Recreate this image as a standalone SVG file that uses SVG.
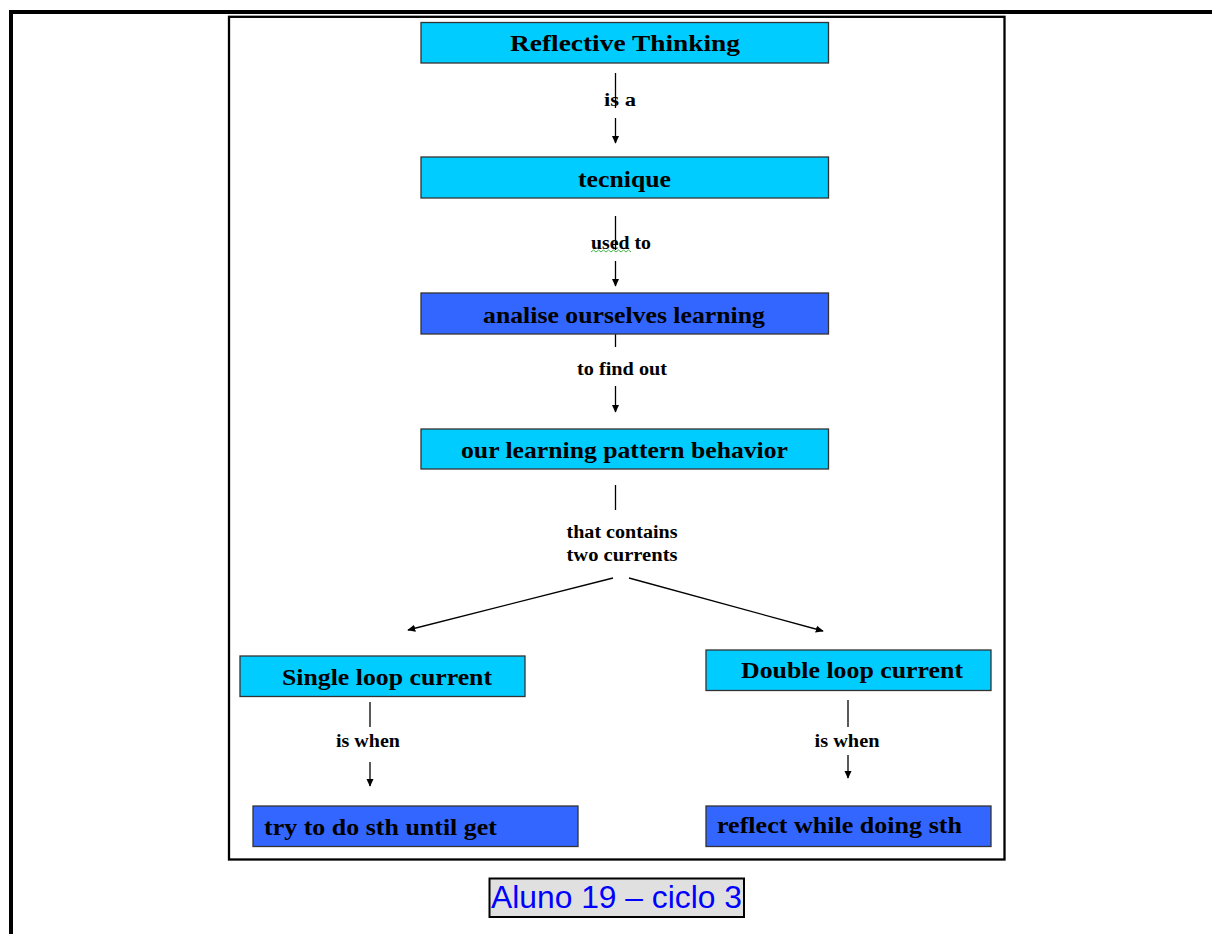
<svg xmlns="http://www.w3.org/2000/svg" width="1212" height="934" viewBox="0 0 1212 934">
  <style>
    .node-lt { fill: #00ccff; stroke: #333333; stroke-width: 1.3; }
    .node-dk { fill: #3366ff; stroke: #333333; stroke-width: 1.3; }
    .ntext { font-family: "Liberation Serif", "Times New Roman", serif; font-weight: bold; font-size: 23.5px; fill: #000000; }
    .lbl { font-family: "Liberation Serif", "Times New Roman", serif; font-weight: bold; font-size: 18px; fill: #000000; text-anchor: middle; }
    .wire { stroke: #000000; stroke-width: 1.3; fill: none; }
    .arrow { stroke: #000000; stroke-width: 1.3; fill: none; marker-end: url(#head); }
  </style>
  <defs>
    <marker id="head" viewBox="0 0 10 10" refX="9" refY="5" markerWidth="8" markerHeight="8" markerUnits="userSpaceOnUse" orient="auto">
      <path d="M0,0.5 L10,5 L0,9.5 z" fill="#000000"/>
    </marker>
  </defs>

  <rect width="1212" height="934" fill="#ffffff"/>

  <!-- page rules -->
  <rect x="9" y="10" width="1203" height="4" fill="#000000"/>
  <rect x="9" y="10" width="4" height="924" fill="#000000"/>

  <!-- figure frame -->
  <rect x="229" y="16.8" width="775.5" height="842.7" fill="#ffffff" stroke="#000000" stroke-width="2.3"/>

  <!-- connectors -->
  <g id="connectors">
    <line class="wire" x1="615.5" y1="73" x2="615.5" y2="108"/>
    <line class="arrow" x1="615.5" y1="118" x2="615.5" y2="143"/>

    <line class="wire" x1="615.5" y1="216" x2="615.5" y2="250"/>
    <line class="arrow" x1="615.5" y1="261" x2="615.5" y2="286"/>

    <line class="wire" x1="615.5" y1="323" x2="615.5" y2="347"/>
    <line class="arrow" x1="615.5" y1="386" x2="615.5" y2="412"/>

    <line class="wire" x1="615.5" y1="485" x2="615.5" y2="510"/>
    <line class="arrow" x1="613" y1="578" x2="408" y2="630"/>
    <line class="arrow" x1="629" y1="578" x2="823" y2="631"/>

    <line class="wire" x1="370" y1="702" x2="370" y2="727"/>
    <line class="arrow" x1="370" y1="762" x2="370" y2="786"/>

    <line class="wire" x1="848" y1="700" x2="848" y2="727"/>
    <line class="arrow" x1="848" y1="755" x2="848" y2="778"/>
  </g>

  <!-- connector labels -->
  <g id="labels">
    <text class="lbl" x="620" y="106" textLength="32" lengthAdjust="spacingAndGlyphs">is a</text>
    <text class="lbl" x="621" y="249" textLength="60" lengthAdjust="spacingAndGlyphs">used to</text>
    <path d="M591,252 l2.5,-2 l2.5,2 l2.5,-2 l2.5,2 l2.5,-2 l2.5,2 l2.5,-2 l2.5,2 l2.5,-2 l2.5,2 l2.5,-2 l2.5,2 l2.5,-2 l2.5,2 l2.5,-2 l2.5,2" fill="none" stroke="#33aa33" stroke-width="0.9"/>
    <text class="lbl" x="622" y="375" textLength="90" lengthAdjust="spacingAndGlyphs">to find out</text>
    <text class="lbl" x="622" y="538" textLength="111" lengthAdjust="spacingAndGlyphs">that contains</text>
    <text class="lbl" x="622" y="561" textLength="111" lengthAdjust="spacingAndGlyphs">two currents</text>
    <text class="lbl" x="368" y="747" textLength="64" lengthAdjust="spacingAndGlyphs">is when</text>
    <text class="lbl" x="847" y="747" textLength="65" lengthAdjust="spacingAndGlyphs">is when</text>
  </g>

  <!-- nodes -->
  <g id="n-reflective">
    <rect class="node-lt" x="421" y="22.5" width="407.5" height="40.5"/>
    <text class="ntext" x="510" y="51" textLength="230" lengthAdjust="spacingAndGlyphs">Reflective Thinking</text>
  </g>
  <g id="n-tecnique">
    <rect class="node-lt" x="421" y="157" width="407.5" height="41"/>
    <text class="ntext" x="578" y="187" textLength="93" lengthAdjust="spacingAndGlyphs">tecnique</text>
  </g>
  <g id="n-analise">
    <rect class="node-dk" x="421" y="293" width="407.5" height="41"/>
    <text class="ntext" x="483" y="323" textLength="282" lengthAdjust="spacingAndGlyphs">analise ourselves learning</text>
  </g>
  <g id="n-pattern">
    <rect class="node-lt" x="421" y="429" width="407.5" height="40"/>
    <text class="ntext" x="461" y="458" textLength="327" lengthAdjust="spacingAndGlyphs">our learning pattern behavior</text>
  </g>
  <g id="n-single">
    <rect class="node-lt" x="240" y="656" width="285" height="40.5"/>
    <text class="ntext" x="282" y="685" textLength="210" lengthAdjust="spacingAndGlyphs">Single loop current</text>
  </g>
  <g id="n-double">
    <rect class="node-lt" x="706" y="650" width="285" height="40.5"/>
    <text class="ntext" x="741" y="678" textLength="222" lengthAdjust="spacingAndGlyphs">Double loop current</text>
  </g>
  <g id="n-try">
    <rect class="node-dk" x="253" y="806" width="325" height="40.5"/>
    <text class="ntext" x="264" y="835" textLength="233" lengthAdjust="spacingAndGlyphs">try to do sth until get</text>
  </g>
  <g id="n-reflect">
    <rect class="node-dk" x="706" y="806" width="285" height="40.5"/>
    <text class="ntext" x="717" y="833" textLength="245" lengthAdjust="spacingAndGlyphs">reflect while doing sth</text>
  </g>

  <!-- caption -->
  <g id="caption">
    <rect x="489.5" y="878.5" width="254.5" height="38.5" fill="#e0e0e0" stroke="#000000" stroke-width="2"/>
    <text x="491" y="908" font-family="'Liberation Sans', Arial, sans-serif" font-size="31" fill="#0000ff" textLength="251" lengthAdjust="spacingAndGlyphs">Aluno 19 – ciclo 3</text>
  </g>
</svg>
